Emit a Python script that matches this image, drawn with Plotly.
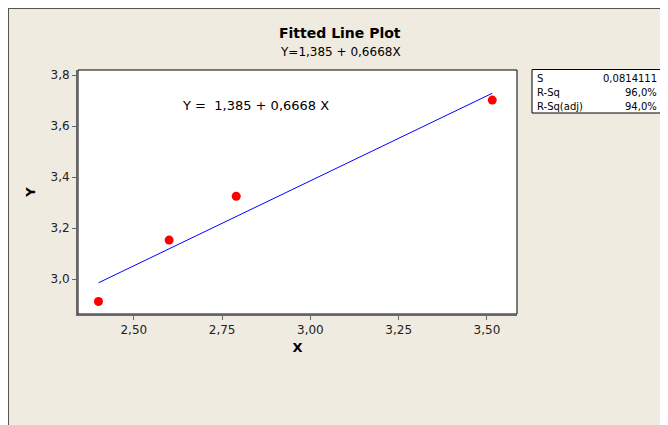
import plotly.graph_objects as go

# Data
x_values = [2.40, 2.60, 2.79, 3.515]
y_values = [2.912, 3.153, 3.325, 3.702]
b0 = 1.385
b1 = 0.6668
stat_labels = ["S", "R-Sq", "R-Sq(adj)"]
stat_values = ["0,0814111", "96,0%", "94,0%"]
x_ticks = [2.50, 2.75, 3.00, 3.25, 3.50]
y_ticks = [3.0, 3.2, 3.4, 3.6, 3.8]

# page is offset by the 8px body margin
OFF = 8
W, H = 668 - OFF, 425 - OFF
L, R, T, B = 78 - OFF, 517 - OFF, 70 - OFF, 314 - OFF
FONT = "DejaVu Sans"
BEIGE = "#EFEBE1"


def px(v):
    # v is a page pixel
    return (v - OFF - L) / (R - L)


def py(v):
    return (B - (v - OFF)) / (B - T)


fit_x = [min(x_values), max(x_values)]
fit_y = [b0 + b1 * v for v in fit_x]

fig = go.Figure()
fig.add_trace(go.Scatter(x=fit_x, y=fit_y, mode="lines",
                         line=dict(color="#0000FF", width=1), hoverinfo="skip"))
fig.add_trace(go.Scatter(x=x_values, y=y_values, mode="markers",
                         marker=dict(color="#FF0000", size=9)))

shapes = [
    dict(type="line", xref="paper", yref="paper", x0=px(8), x1=px(8), y0=py(8), y1=py(440),
         line=dict(color="#555555", width=2)),
    dict(type="line", xref="paper", yref="paper", x0=px(8), x1=px(700), y0=py(8), y1=py(8),
         line=dict(color="#555555", width=2)),
    # plot area
    dict(type="rect", xref="paper", yref="paper", x0=0, x1=1, y0=0, y1=1,
         fillcolor="white", line=dict(color="black", width=1), layer="below"),
    # stats box
    dict(type="rect", xref="paper", yref="paper", x0=px(532), x1=px(663.5), y0=py(113), y1=py(69.5),
         fillcolor="white", line=dict(color="black", width=1)),
]


def ann(text, x, y, size, xanchor="center", color="black"):
    return dict(text=text, x=px(x), y=py(y), xref="paper", yref="paper",
                xanchor=xanchor, yanchor="middle", showarrow=False,
                font=dict(family=FONT, size=size, color=color))


annotations = [
    ann("<b>Fitted Line Plot</b>", 340, 33, 14),
    ann("Y=1,385 + 0,6668X", 340, 52, 12),
    ann("Y =  1,385 + 0,6668 X", 180, 105, 13, xanchor="left"),
]
row_y = [78, 92, 106]
for lab, val, ry in zip(stat_labels, stat_values, row_y):
    annotations.append(ann(lab, 535, ry, 10, xanchor="left"))
    annotations.append(ann(val, 659, ry, 10, xanchor="right"))

fig.update_layout(
    width=W, height=H,
    margin=dict(l=L, r=W - R, t=T, b=H - B),
    paper_bgcolor=BEIGE, plot_bgcolor="white",
    separators=",.",
    showlegend=False,
    shapes=shapes,
    annotations=annotations,
    font=dict(family=FONT, size=12, color="#222222"),
    xaxis=dict(range=[2.342, 3.585], tickvals=x_ticks, tickformat=".2f",
               ticks="outside", ticklen=4, tickcolor="#666666", showgrid=False, zeroline=False,
               showline=True, linecolor="#666666", linewidth=2,
               title=dict(text="<b>X</b>", font=dict(family=FONT, size=13, color="black"), standoff=6),
               tickfont=dict(family=FONT, size=12, color="#222222")),
    yaxis=dict(range=[2.863, 3.82], tickvals=y_ticks, tickformat=".1f",
               ticks="outside", ticklen=4, tickcolor="#666666", showgrid=False, zeroline=False,
               showline=True, linecolor="#666666", linewidth=2,
               title=dict(text="<b>Y</b>", font=dict(family=FONT, size=13, color="black"), standoff=12),
               tickfont=dict(family=FONT, size=12, color="#222222")),
)

fig.write_html("out.html")
